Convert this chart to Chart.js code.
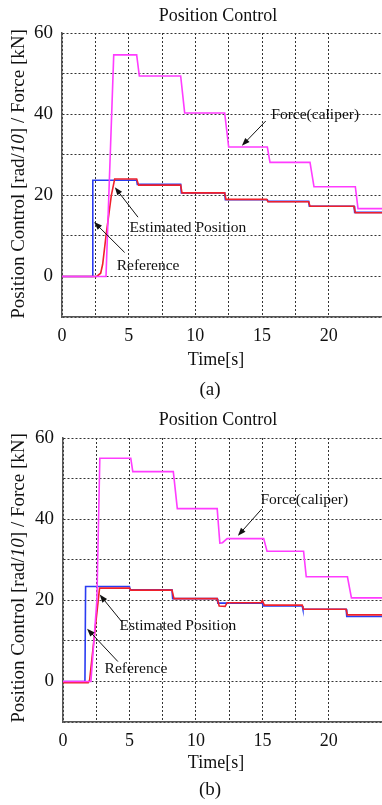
<!DOCTYPE html>
<html>
<head>
<meta charset="utf-8">
<script src="https://cdn.jsdelivr.net/npm/chart.js@4.4.0/dist/chart.umd.min.js"></script>
<style>
  html, body { margin: 0; padding: 0; background: #fff; }
  #wrap { position: relative; width: 382px; height: 805px; overflow: hidden; }
  canvas { position: absolute; left: 0; }
</style>
</head>
<body>
<div id="wrap">
  <canvas id="chartA" width="382" height="402" style="top:0"></canvas>
  <canvas id="chartB" width="382" height="403" style="top:402px"></canvas>
</div>
<script>
// (a) reference position (blue), estimated position (red), caliper force (magenta)
const refTimeA = [0, 2.29, 2.31, 5.6, 5.65, 8.9, 8.95, 12.2, 12.25, 15.4, 15.45, 18.5, 18.55, 21.9, 21.95, 24];
const refA = [0, 0, 23.7, 23.7, 22.7, 22.7, 20.6, 20.6, 18.9, 18.9, 18.5, 18.5, 17.3, 17.3, 15.8, 15.8];
const estTimeA = [0, 2.6, 2.9, 3.05, 3.3, 3.7, 3.95, 5.6, 5.75, 8.9, 9.0, 12.2, 12.3, 15.35, 15.45, 18.5, 18.6, 21.9, 22.0, 24];
const estA = [0, 0, 0.8, 3, 10, 20, 24, 24, 22.5, 22.5, 20.6, 20.6, 19.0, 19.0, 18.4, 18.4, 17.3, 17.3, 15.7, 15.7];
const forceTimeA = [0, 3.3, 3.88, 5.6, 5.8, 8.9, 9.2, 12.2, 12.5, 15.4, 15.6, 18.6, 18.9, 22.0, 22.2, 24];
const forceA = [0, 0, 54.6, 54.6, 49.4, 49.4, 40.3, 40.3, 31.9, 31.9, 28.1, 28.1, 22.1, 22.1, 16.7, 16.7];

// (b)
const refTimeB = [0, 1.65, 1.7, 5.0, 5.05, 8.2, 8.25, 11.6, 11.65, 15.0, 15.05, 18.0, 18.05, 21.3, 21.35, 24];
const refB = [0, 0, 23.4, 23.4, 22.6, 22.6, 20.4, 20.4, 19.3, 19.3, 18.6, 18.6, 17.8, 17.8, 16.0, 16.0];
const estTimeB = [0, 1.9, 2.0, 2.75, 5.0, 5.1, 8.2, 8.35, 11.6, 11.75, 12.2, 12.35, 14.9, 15.0, 15.15, 18.0, 18.1, 21.3, 21.4, 24];
const estB = [-0.3, -0.3, 0.3, 23.0, 23.0, 22.5, 22.5, 20.4, 20.4, 18.6, 18.5, 19.4, 19.4, 19.9, 18.8, 18.8, 17.8, 17.8, 16.4, 16.4];
const forceTimeB = [0, 2.1, 2.55, 2.77, 5.1, 5.25, 8.3, 8.6, 11.6, 11.8, 12.0, 12.35, 15.1, 15.35, 18.1, 18.3, 21.4, 21.7, 24];
const forceB = [0, 0, 20, 55, 55, 51.7, 51.7, 42.6, 42.6, 34.1, 34.2, 35.2, 35.2, 32.1, 32.1, 25.8, 25.8, 20.6, 20.6];

const timeTicks = [0, 5, 10, 15, 20];
const valueTicks = [0, 20, 40, 60];

const serif = '"Liberation Serif", "Times New Roman", serif';

function arrow(ctx, x1, y1, x2, y2) {
  const a = Math.atan2(y2 - y1, x2 - x1);
  const len = 8, half = 3;
  ctx.beginPath();
  ctx.moveTo(x1, y1);
  ctx.lineTo(x2 - Math.cos(a) * len * 0.8, y2 - Math.sin(a) * len * 0.8);
  ctx.stroke();
  ctx.beginPath();
  ctx.moveTo(x2, y2);
  ctx.lineTo(x2 - Math.cos(a) * len - Math.sin(a) * half, y2 - Math.sin(a) * len + Math.cos(a) * half);
  ctx.lineTo(x2 - Math.cos(a) * len + Math.sin(a) * half, y2 - Math.sin(a) * len - Math.cos(a) * half);
  ctx.closePath();
  ctx.fill();
}

const paperText = {
  id: 'paperText',
  afterDraw(chart, args, o) {
    const ctx = chart.ctx;
    const xs = chart.scales.x, ys = chart.scales.y;
    ctx.save();
    ctx.fillStyle = '#111';
    ctx.strokeStyle = '#111';
    ctx.lineWidth = 1;
    ctx.textBaseline = 'middle';
    ctx.textAlign = 'center';

    ctx.font = '18px ' + serif;
    ctx.fillText('Position Control', o.titleX, o.titleY);
    ctx.fillText('Time[s]', o.titleX - 2, o.timeY);
    ctx.font = '19px ' + serif;
    ctx.fillText(o.caption, o.captionX, o.captionY);

    // rotated y label, "10" in italics
    const parts = [['Position Control [rad/', ''], ['10', 'italic '], ['] / Force [kN]', '']];
    let total = 0;
    parts.forEach(p => { ctx.font = p[1] + o.ySize + 'px ' + serif; total += ctx.measureText(p[0]).width; });
    ctx.translate(o.yLabelX, o.yLabelY);
    ctx.rotate(-Math.PI / 2);
    ctx.textAlign = 'left';
    let pos = -total / 2;
    parts.forEach(p => {
      ctx.font = p[1] + o.ySize + 'px ' + serif;
      ctx.fillText(p[0], pos, 0);
      pos += ctx.measureText(p[0]).width;
    });
    ctx.setTransform(1, 0, 0, 1, 0, 0);

    ctx.font = '15.5px ' + serif;
    ctx.textAlign = 'left';
    o.notes.forEach(n => {
      ctx.fillText(n.text, xs.getPixelForValue(n.at[0]), ys.getPixelForValue(n.at[1]));
      arrow(ctx, xs.getPixelForValue(n.from[0]), ys.getPixelForValue(n.from[1]),
        xs.getPixelForValue(n.to[0]), ys.getPixelForValue(n.to[1]));
    });
    ctx.restore();
  }
};

function series(times, vals) {
  return times.map((t, i) => ({ x: t, y: vals[i] }));
}

function buildChart(id, data, geom, text) {
  return new Chart(document.getElementById(id), {
    type: 'line',
    data: {
      datasets: [
        { label: 'Estimated Position', data: series(data.estT, data.est), borderColor: '#f0202a', order: 1 },
        { label: 'Reference', data: series(data.refT, data.ref), borderColor: '#2a3cf2', order: 2 },
        { label: 'Force(caliper)', data: series(data.forceT, data.force), borderColor: '#ff3cff', order: 0 }
      ].map(d => Object.assign(d, { borderWidth: 1.6, pointRadius: 0, tension: 0, fill: false }))
    },
    options: {
      responsive: false,
      animation: false,
      layout: { padding: { top: geom.top, left: 0, right: 0, bottom: 0 } },
      plugins: { legend: { display: false }, tooltip: { enabled: false }, paperText: text },
      scales: {
        x: {
          type: 'linear', min: 0, max: 24,
          afterBuildTicks: s => { s.ticks = s.ticks.filter(t => Math.abs(t.value / 2.5 - Math.round(t.value / 2.5)) < 1e-6); },
          afterFit: s => { s.height = geom.xh; },
          ticks: {
            stepSize: 2.5, autoSkip: false, maxRotation: 0, padding: 8, color: '#111',
            font: { family: serif, size: 18 },
            callback: v => timeTicks.includes(v) ? String(v) : ''
          },
          grid: { color: '#333', lineWidth: 1, drawTicks: false },
          border: { display: true, color: '#555', width: 1.5, dash: [2, 2] }
        },
        y: {
          min: -10, max: 60,
          afterFit: s => { s.width = geom.left; },
          ticks: {
            stepSize: 10, padding: 9, color: '#111',
            font: { family: serif, size: 19 },
            callback: v => valueTicks.includes(v) ? String(v) : ''
          },
          grid: { color: '#333', lineWidth: 1, drawTicks: false },
          border: { display: true, color: '#555', width: 1.5, dash: [2, 2] }
        }
      }
    },
    plugins: [paperText]
  });
}

buildChart('chartA',
  { refT: refTimeA, ref: refA, estT: estTimeA, est: estA, forceT: forceTimeA, force: forceA },
  { top: 33, left: 62, xh: 85 },
  {
    titleX: 218, titleY: 16, timeY: 360, caption: '(a)', captionX: 210, captionY: 390,
    yLabelX: 19, yLabelY: 174, ySize: 19,
    notes: [
      { text: 'Force(caliper)', at: [15.7, 39.8], from: [15.28, 38.3], to: [13.49, 32.2] },
      { text: 'Estimated Position', at: [5.07, 11.9], from: [5.7, 14.6], to: [3.96, 22.0] },
      { text: 'Reference', at: [4.1, 2.7], from: [4.7, 5.9], to: [2.41, 13.4] }
    ]
  });

buildChart('chartB',
  { refT: refTimeB, ref: refB, estT: estTimeB, est: estB, forceT: forceTimeB, force: forceB },
  { top: 36, left: 63, xh: 83 },
  {
    titleX: 218, titleY: 18, timeY: 361, caption: '(b)', captionX: 210, captionY: 388,
    yLabelX: 19, yLabelY: 176, ySize: 19,
    notes: [
      { text: 'Force(caliper)', at: [14.85, 44.7], from: [14.95, 42.5], to: [13.16, 35.9] },
      { text: 'Estimated Position', at: [4.25, 13.6], from: [4.45, 14.6], to: [2.76, 21.4] },
      { text: 'Reference', at: [3.13, 3.0], from: [4.13, 4.9], to: [1.81, 13.0] }
    ]
  });
</script>
</body>
</html>
